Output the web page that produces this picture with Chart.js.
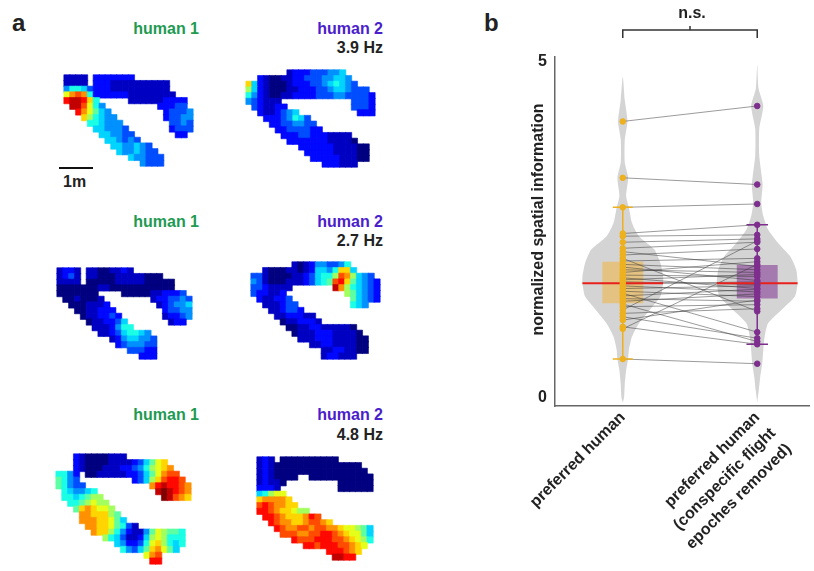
<!DOCTYPE html>
<html lang="en">
<head>
  <meta charset="UTF-8" />
  <title>Preferred human place fields</title>
  <script src="https://cdn.jsdelivr.net/npm/chart.js"></script>
  <style>
    body { margin: 0; background: #fff; }
    #fig {
      position: relative;
      width: 814px;
      height: 571px;
      overflow: hidden;
      font-family: 'Liberation Sans', Arial, sans-serif;
      font-weight: bold;
      color: #222;
    }
    .lbl { position: absolute; font-size: 16px; line-height: 16px; white-space: nowrap; }
    .r { text-align: right; width: 120px; }
    .panel { position: absolute; font-size: 24px; line-height: 24px; }
    .h1 { color: #1e9a52; }
    .h2 { color: #4a20cc; }
    canvas { position: absolute; }
  </style>
</head>
<body>
  <div id="fig">
    <div class="panel" style="left:12px; top:11px;">a</div>
    <div class="panel" style="left:484px; top:11px;">b</div>

    <div class="lbl r h1" style="left:79px; top:21px;">human 1</div>
    <div class="lbl r h2" style="left:263px; top:21px;">human 2</div>
    <div class="lbl r" style="left:263px; top:40px;">3.9 Hz</div>

    <div class="lbl r h1" style="left:79px; top:214px;">human 1</div>
    <div class="lbl r h2" style="left:263px; top:214px;">human 2</div>
    <div class="lbl r" style="left:263px; top:233px;">2.7 Hz</div>

    <div class="lbl r h1" style="left:79px; top:407px;">human 1</div>
    <div class="lbl r h2" style="left:263px; top:407px;">human 2</div>
    <div class="lbl r" style="left:263px; top:427px;">4.8 Hz</div>

    <div style="position:absolute; left:59px; top:167px; width:34px; height:2px; background:#111;"></div>
    <div class="lbl" style="left:63px; top:174px;">1m</div>

    <canvas id="violin" width="334" height="571" style="left:480px; top:0;"></canvas>
  </div>

  <script>
    // ---- panel a: rate maps, one hex digit per bin (0 = min, f = max of jet), '.' = not visited
    const map1Grid = [
      "1111.2222222..........",
      "1111.2221111111111....",
      "466532221111111111....",
      "9bcb622222211111111...",
      "deeda6.....1111112222.",
      ".eec964.........22233.",
      "..db9754.........23334",
      "...a86544........23344",
      "....665444........3343",
      ".....554443.......2333",
      "......554433.......22.",
      ".......554343.........",
      "........5544543.......",
      ".........5445433......",
      "...........544333.....",
      ".............4333....."
    ];
    const map2Grid = [
      ".......1222333445.....",
      "..2100112233344554....",
      "a521000122233456543...",
      "852100011222334554333.",
      "6421001122223334433332",
      "432111............3332",
      ".321122...........3332",
      "..2112345..........222",
      "...22234653...........",
      "....22334433..........",
      ".....22333322.........",
      "......222332221111....",
      ".......222222211110...",
      ".........222222111100.",
      "..........22222111100.",
      "...........2222211100.",
      ".............222111..."
    ];
    const map3Grid = [
      "1221.11001121..........",
      "1231.1100011111000.....",
      "1111.000001111100000...",
      "00000001100000000000...",
      "0000000....00000112223.",
      ".0010001........1223343",
      "..0001112........123445",
      "...0011222........23344",
      "....0112232.......12234",
      ".....0112235.......122.",
      "......1112466..........",
      ".......112356654.......",
      ".........12455443......",
      "..........2344433......",
      "............33322......",
      "..............222......"
    ];
    const map4Grid = [
      ".......1012443346.....",
      "..1000110125546aa5....",
      "331000011235668cb8543.",
      "43100011123567cda75432",
      "3321111.......eb865432",
      "322112..........875432",
      ".211223..........75432",
      "..111233.........654..",
      "...112332.............",
      "....1122211...........",
      ".....0112221..........",
      "......001122111110....",
      ".......011122211110...",
      "........111222111100..",
      "..........1122111100..",
      "............11221100..",
      "............122111...."
    ];
    const map5Grid = [
      "...210000111...........",
      "...210000111123579a....",
      "...210001112234689ab...",
      "6642.0011111223579bcc..",
      "7643.........2358acddc.",
      "76433...........bdeddcb",
      ".654456..........efedcb",
      ".6656788..........fecba",
      "..6678988..............",
      "...7aba998.............",
      "....bbaaa87............",
      "....bbbaa975...........",
      ".....bbaa97631.........",
      "......baa8642114798776.",
      "........86531125898666.",
      "..........5422369a8656.",
      "...........64357ab975..",
      "...............9bc.....",
      "................dd....."
    ];
    const map6Grid = [
      "121.0000000000......",
      "121000000000000000..",
      "1210000000000000000.",
      "1210000..00000000000",
      "12110.........000000",
      "2221..........000000",
      "56899...............",
      "abbbba..............",
      "cdcbbaa.............",
      "ddcbaa988...........",
      ".ddcbaaabdc.........",
      "..dcbbaabccba.......",
      "...dcbbccbccbba99875",
      "....cccbbccddcba9975",
      "......dcccdddccba986",
      "........ddcdddccba9.",
      "............dddcba..",
      ".............eedd..."
    ];

    // ---- panel b: normalized spatial information, paired by cell
    const groupPos = [1, 2];
    const xLabels = [
      ['preferred human'],
      ['preferred human', '(conspecific flight', 'epoches removed)']
    ];
    const yTicks = [0, 5];
    const yTitle = 'normalized spatial information';
    const preferred = [
      4.11, 3.27, 2.83, 2.44, 2.40, 2.31, 2.22, 2.17, 2.12, 2.07, 2.03, 1.98,
      1.94, 1.90, 1.86, 1.82, 1.78, 1.75, 1.72, 1.69, 1.66, 1.62, 1.58, 1.55,
      1.51, 1.47, 1.43, 1.39, 1.35, 1.30, 1.25, 1.20, 1.15, 1.05, 1.02, 0.57
    ];
    const removed = [
      4.34, 3.17, 2.88, 2.57, 2.42, 2.36, 2.31, 1.95, 2.21, 1.28, 2.07, 1.90,
      1.74, 1.86, 2.02, 1.80, 1.62, 1.83, 1.68, 1.72, 1.57, 1.66, 1.50, 0.97,
      1.61, 1.43, 1.54, 0.83, 1.38, 2.33, 1.32, 0.88, 1.45, 0.79, 1.98, 0.50
    ];
    const medians = [1.70, 1.70];
    const boxLow = [1.40, 1.47];
    const boxHigh = [2.02, 1.97];
    const whiskLow = [0.57, 0.79];
    const whiskHigh = [2.83, 2.57];
    const violinLevels1 = [-0.08, 0.0, 0.2, 0.4, 0.57, 0.7, 0.9, 1.1, 1.3, 1.5, 1.7, 1.8,
                           2.0, 2.2, 2.4, 2.6, 2.83, 3.0, 3.27, 3.5, 3.84, 4.11, 4.43, 4.78];
    const violinWidth1 = [0, 0.01, 0.015, 0.025, 0.04, 0.045, 0.068, 0.12, 0.2, 0.28, 0.30, 0.30,
                          0.28, 0.235, 0.12, 0.068, 0.045, 0.025, 0.04, 0.015, 0.015, 0.035, 0.015, 0];
    const violinLevels2 = [-0.08, 0.1, 0.3, 0.5, 0.7, 0.9, 1.1, 1.3, 1.5, 1.7, 1.9, 2.1,
                           2.3, 2.5, 2.7, 2.9, 3.17, 3.6, 4.0, 4.34, 4.6, 4.96];
    const violinWidth2 = [0, 0.011, 0.022, 0.037, 0.045, 0.055, 0.08, 0.18, 0.28, 0.30, 0.29, 0.245,
                          0.155, 0.08, 0.045, 0.03, 0.04, 0.015, 0.015, 0.045, 0.01, 0];

    Chart.defaults.font.family = "'Liberation Sans', Arial, sans-serif";

    const CELL = 6.3;
    const ORANGE = '#edb120';
    const PURPLE = '#7e2f8e';

    function jet(t) {
      const c = v => Math.round(255 * Math.min(1, Math.max(0, v)));
      return 'rgb(' + c(1.5 - Math.abs(4 * t - 3)) + ',' + c(1.5 - Math.abs(4 * t - 2)) + ',' + c(1.5 - Math.abs(4 * t - 1)) + ')';
    }

    function rateMap(grid, left, top) {
      const nr = grid.length;
      const nc = Math.max(...grid.map(r => r.length));
      const cv = document.createElement('canvas');
      cv.width = Math.round(nc * CELL);
      cv.height = Math.round(nr * CELL);
      cv.style.left = left + 'px';
      cv.style.top = top + 'px';
      document.getElementById('fig').appendChild(cv);

      const pts = [], cols = [];
      grid.forEach((row, r) => {
        [...row].forEach((ch, c) => {
          if (ch === '.') return;
          pts.push({x: c, y: r});
          cols.push(jet(parseInt(ch, 16) / 15));
        });
      });

      new Chart(cv, {
        type: 'scatter',
        data: {
          datasets: [{
            data: pts,
            pointStyle: 'rect',
            pointRadius: (cv.width / nc) / Math.SQRT2,
            pointBackgroundColor: cols,
            pointBorderColor: cols,
            pointBorderWidth: 0.6,
            clip: false
          }]
        },
        options: {
          responsive: false,
          animation: false,
          events: [],
          layout: { padding: 0 },
          plugins: { legend: { display: false }, tooltip: { enabled: false } },
          scales: {
            x: { type: 'linear', display: false, min: -0.5, max: nc - 0.5 },
            y: { type: 'linear', display: false, reverse: true, min: -0.5, max: nr - 0.5 }
          }
        }
      });
    }

    rateMap(map1Grid, 59, 70);
    rateMap(map2Grid, 241, 65);
    rateMap(map3Grid, 52, 263);
    rateMap(map4Grid, 246, 257);
    rateMap(map5Grid, 51, 449);
    rateMap(map6Grid, 252, 452);

    // ---- violin panel
    function violinOutline(pos, levels, widths) {
      const right = levels.map((v, i) => ({x: pos + widths[i], y: v}));
      const left = levels.map((v, i) => ({x: pos - widths[i], y: v})).reverse();
      return right.concat(left.slice(1));
    }

    function boxOutline(pos, lo, hi) {
      const hw = 0.152;
      return [{x: pos - hw, y: lo}, {x: pos + hw, y: lo}, {x: pos + hw, y: hi}, {x: pos - hw, y: hi}, {x: pos - hw, y: lo}];
    }

    const GAP = {x: NaN, y: NaN};
    const pairLines = [];
    preferred.forEach((v, i) => {
      pairLines.push({x: groupPos[0], y: v}, {x: groupPos[1], y: removed[i]}, GAP);
    });

    const medianLines = [];
    const whiskerLines = [[], []];
    groupPos.forEach((p, g) => {
      medianLines.push({x: p - 0.30, y: medians[g]}, {x: p + 0.30, y: medians[g]}, GAP);
      const cw = g === 0 ? 0.074 : 0.08;
      whiskerLines[g].push(
        {x: p, y: whiskLow[g]}, {x: p, y: whiskHigh[g]}, GAP,
        {x: p - cw, y: whiskHigh[g]}, {x: p + cw, y: whiskHigh[g]}, GAP,
        {x: p - cw, y: whiskLow[g]}, {x: p + cw, y: whiskLow[g]}
      );
    });

    const lineBase = { type: 'line', pointRadius: 0, spanGaps: false, fill: false };

    const panelText = {
      id: 'panelText',
      afterDraw(chart) {
        const {ctx, chartArea, scales} = chart;
        ctx.save();
        ctx.fillStyle = '#222';
        ctx.font = "bold 16px 'Liberation Sans', Arial, sans-serif";
        ctx.translate(chartArea.left - 16, (chartArea.top + chartArea.bottom) / 2 - 12);
        ctx.rotate(-Math.PI / 2);
        ctx.textAlign = 'center';
        ctx.textBaseline = 'middle';
        ctx.fillText(yTitle, 0, 0);
        ctx.restore();

        const x1 = scales.x.getPixelForValue(groupPos[0]);
        const x2 = scales.x.getPixelForValue(groupPos[1]);
        const xm = (x1 + x2) / 2;
        const yb = chartArea.top - 27;
        ctx.save();
        ctx.strokeStyle = '#333';
        ctx.lineWidth = 1.5;
        ctx.beginPath();
        ctx.moveTo(x1, yb + 8);
        ctx.lineTo(x1, yb);
        ctx.lineTo(x2, yb);
        ctx.lineTo(x2, yb + 8);
        ctx.moveTo(xm, yb);
        ctx.lineTo(xm, yb - 4);
        ctx.stroke();
        ctx.fillStyle = '#222';
        ctx.font = "bold 16px 'Liberation Sans', Arial, sans-serif";
        ctx.textAlign = 'center';
        ctx.fillText('n.s.', xm + 2, yb - 12);
        ctx.restore();
      }
    };

    new Chart(document.getElementById('violin'), {
      type: 'scatter',
      data: {
        datasets: [
          { ...lineBase, data: violinOutline(groupPos[0], violinLevels1, violinWidth1), fill: 'shape',
            backgroundColor: '#d4d4d4', borderWidth: 0, tension: 0.2, order: 10 },
          { ...lineBase, data: violinOutline(groupPos[1], violinLevels2, violinWidth2), fill: 'shape',
            backgroundColor: '#d4d4d4', borderWidth: 0, tension: 0.2, order: 10 },
          { ...lineBase, data: boxOutline(groupPos[0], boxLow[0], boxHigh[0]), fill: 'shape',
            backgroundColor: 'rgba(240,178,60,0.55)', borderWidth: 0, order: 9 },
          { ...lineBase, data: boxOutline(groupPos[1], boxLow[1], boxHigh[1]), fill: 'shape',
            backgroundColor: 'rgba(126,47,142,0.55)', borderWidth: 0, order: 9 },
          { ...lineBase, data: pairLines, borderColor: 'rgba(50,50,50,0.55)', borderWidth: 0.9, order: 8 },
          { ...lineBase, data: medianLines, borderColor: '#e8201c', borderWidth: 2, order: 7 },
          { ...lineBase, data: whiskerLines[0], borderColor: ORANGE, borderWidth: 1.5, order: 6 },
          { ...lineBase, data: whiskerLines[1], borderColor: PURPLE, borderWidth: 1.5, order: 6 },
          { data: preferred.map(v => ({x: groupPos[0], y: v})), pointRadius: 2.8,
            backgroundColor: ORANGE, borderColor: ORANGE, order: 5 },
          { data: removed.map(v => ({x: groupPos[1], y: v})), pointRadius: 2.8,
            backgroundColor: PURPLE, borderColor: PURPLE, order: 5 }
        ]
      },
      options: {
        responsive: false,
        animation: false,
        events: [],
        layout: { padding: { top: 57, right: 4, left: 0, bottom: 0 } },
        plugins: { legend: { display: false }, tooltip: { enabled: false } },
        scales: {
          x: {
            type: 'linear',
            min: 0.496,
            max: 2.385,
            grid: { display: false },
            border: { color: '#666', width: 1.5 },
            afterBuildTicks: s => { s.ticks = groupPos.map(v => ({value: v})); },
            afterFit: s => { s.height = 165; },
            ticks: {
              autoSkip: false,
              minRotation: 45,
              maxRotation: 45,
              padding: -7,
              color: '#222',
              font: { size: 16, weight: 'bold', lineHeight: 1.4 },
              callback: v => xLabels[groupPos.indexOf(v)]
            }
          },
          y: {
            type: 'linear',
            min: -0.13,
            max: 5.07,
            grid: { display: false },
            border: { color: '#666', width: 1.5 },
            afterBuildTicks: s => { s.ticks = yTicks.map(v => ({value: v})); },
            afterFit: s => { s.width = 75; },
            ticks: {
              padding: 0,
              color: '#222',
              font: { size: 16, weight: 'bold' }
            }
          }
        }
      },
      plugins: [panelText]
    });
  </script>
</body>
</html>
